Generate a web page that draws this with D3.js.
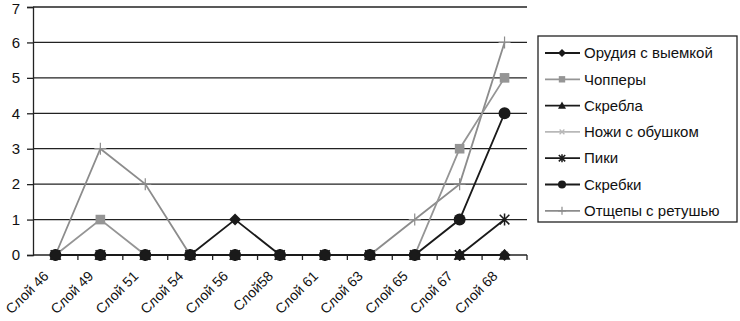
<!DOCTYPE html>
<html>
<head>
<meta charset="utf-8">
<script src="https://cdn.jsdelivr.net/npm/d3@7"></script>
<style>
  body { margin: 0; background: #fff; }
  svg text { font-family: "Liberation Sans", Arial, sans-serif; fill: #111; }
</style>
</head>
<body>
<div class="chart"></div>
<script>
/* data */
const layers = ['Слой 46', 'Слой 49', 'Слой 51', 'Слой 54', 'Слой 56', 'Слой58',
    'Слой 61', 'Слой 63', 'Слой 65', 'Слой 67', 'Слой 68']
const yTicks = [0, 1, 2, 3, 4, 5, 6, 7]

const orudia = [0, 0, 0, 0, 1, 0, 0, 0, 0, 0, 0]
const choppers = [0, 1, 0, 0, 0, 0, 0, 0, 0, 3, 5]
const skrebla = [0, 0, 0, 0, 0, 0, 0, 0, 0, 0, 0]
const nozhi = [0, 0, 0, 0, 0, 0, 0, 0, 0, 0, 0]
const piki = [0, 0, 0, 0, 0, 0, 0, 0, 0, 0, 1]
const skrebki = [0, 0, 0, 0, 0, 0, 0, 0, 0, 1, 4]
const otshchepy = [0, 3, 2, 0, 0, 0, 0, 0, 1, 2, 6]

const seriesNames = ['Орудия с выемкой', 'Чопперы', 'Скребла', 'Ножи с обушком',
    'Пики', 'Скребки', 'Отщепы с ретушью']

// draw order: grey lines first so black ones sit on top
const series = [
    { name: seriesNames[3], values: nozhi, color: '#b8b8b8', marker: 'x' },
    { name: seriesNames[6], values: otshchepy, color: '#8c8c8c', marker: 'plus' },
    { name: seriesNames[1], values: choppers, color: '#959595', marker: 'square' },
    { name: seriesNames[2], values: skrebla, color: '#1a1a1a', marker: 'triangle' },
    { name: seriesNames[4], values: piki, color: '#1a1a1a', marker: 'star' },
    { name: seriesNames[5], values: skrebki, color: '#1a1a1a', marker: 'circle' },
    { name: seriesNames[0], values: orudia, color: '#1a1a1a', marker: 'diamond' }
]

const width = 740, height = 321
const plot = { left: 33, right: 527, top: 7, bottom: 255 }

const svg = d3.select('.chart')
    .append('svg')
    .attr('width', width)
    .attr('height', height)

const x = d3.scaleBand().domain(layers).range([plot.left, plot.right])
const y = d3.scaleLinear().domain([0, 7]).range([plot.bottom, plot.top])

// gridlines
svg.append('g')
    .selectAll('line')
    .data(yTicks.filter(d => d > 0))
    .join('line')
    .attr('x1', plot.left).attr('x2', plot.right)
    .attr('y1', d => y(d)).attr('y2', d => y(d))
    .attr('stroke', '#222').attr('stroke-width', 1.3)

// y axis
const yAxis = svg.append('g')
    .attr('transform', `translate(${plot.left},0)`)
    .call(d3.axisLeft(y).tickValues(yTicks).tickSize(6).tickPadding(7).tickFormat(d3.format('d')))
yAxis.select('.domain').attr('stroke', '#222').attr('stroke-width', 1.3)
yAxis.selectAll('.tick line').attr('stroke', '#222').attr('stroke-width', 1.3)
yAxis.selectAll('text').style('font-size', '15px').attr('fill', '#111')
// top label sits against the edge, nudge it in
yAxis.selectAll('.tick').filter(d => d === 7).select('text').attr('dy', '0.45em')

// x axis: ticks at category boundaries
const xAxis = svg.append('g')
    .attr('transform', `translate(0,${plot.bottom})`)
xAxis.append('line')
    .attr('x1', plot.left).attr('x2', plot.right)
    .attr('stroke', '#222').attr('stroke-width', 1.3)
xAxis.selectAll('line.tk')
    .data(layers)
    .join('line')
    .attr('class', 'tk')
    .attr('x1', d => x(d) + x.bandwidth()).attr('x2', d => x(d) + x.bandwidth())
    .attr('y1', 0).attr('y2', 5)
    .attr('stroke', '#222').attr('stroke-width', 1.3)
xAxis.selectAll('text')
    .data(layers)
    .join('text')
    .attr('transform', d => `translate(${x(d) + x.bandwidth() / 2 - 6},${22}) rotate(-45)`)
    .attr('text-anchor', 'end')
    .style('font-size', '14px')
    .text(d => d)

const cx = d => x(d) + x.bandwidth() / 2

/* marker drawing */
function drawMarker(g, type, color, size) {
    const s = size
    if (type === 'diamond') {
        g.append('path').attr('d', `M0,${-s}L${s},0L0,${s}L${-s},0Z`).attr('fill', color)
    } else if (type === 'square') {
        g.append('rect').attr('x', -s * 0.8).attr('y', -s * 0.8).attr('width', s * 1.6).attr('height', s * 1.6).attr('fill', color)
    } else if (type === 'triangle') {
        g.append('path').attr('d', `M0,${-s}L${s},${s * 0.8}L${-s},${s * 0.8}Z`).attr('fill', color)
    } else if (type === 'circle') {
        g.append('circle').attr('r', s).attr('fill', color)
    } else if (type === 'x') {
        const a = s * 0.6
        g.append('path').attr('d', `M${-a},${-a}L${a},${a}M${-a},${a}L${a},${-a}`).attr('stroke', color).attr('stroke-width', 1.3)
    } else if (type === 'star') {
        const a = s * 0.8
        g.append('path').attr('d', `M${-a},${-a}L${a},${a}M${-a},${a}L${a},${-a}M0,${-s}L0,${s}`).attr('stroke', color).attr('stroke-width', 1.5)
    } else if (type === 'plus') {
        g.append('path').attr('d', `M${-s},0L${s},0M0,${-s}L0,${s}`).attr('stroke', color).attr('stroke-width', 1.2)
    }
}

const line = d3.line().x((d, i) => cx(layers[i])).y(d => y(d))

series.forEach(s => {
    svg.append('path')
        .datum(s.values)
        .attr('d', line)
        .attr('fill', 'none')
        .attr('stroke', s.color)
        .attr('stroke-width', 1.8)
    s.values.forEach((v, i) => {
        const g = svg.append('g').attr('transform', `translate(${cx(layers[i])},${y(v)})`)
        drawMarker(g, s.marker, s.color, 6)
    })
})

/* legend */
const legend = svg.append('g').attr('transform', 'translate(538,36)')
legend.append('rect')
    .attr('x', 0).attr('y', 0).attr('width', 199).attr('height', 186)
    .attr('fill', '#fff').attr('stroke', '#222').attr('stroke-width', 1.3)

const legendItems = seriesNames.map(n => series.find(s => s.name === n))
legendItems.forEach((s, i) => {
    const ly = 17 + i * 26.3
    const g = legend.append('g').attr('transform', `translate(0,${ly})`)
    g.append('line').attr('x1', 7).attr('x2', 42).attr('y1', 0).attr('y2', 0)
        .attr('stroke', s.color).attr('stroke-width', 1.8)
    const m = g.append('g').attr('transform', 'translate(24,0)')
    drawMarker(m, s.marker, s.color, 4)
    g.append('text').attr('x', 46).attr('y', 0).attr('dy', '0.35em')
        .style('font-size', '15px')
        .text(s.name)
})
</script>
</body>
</html>
